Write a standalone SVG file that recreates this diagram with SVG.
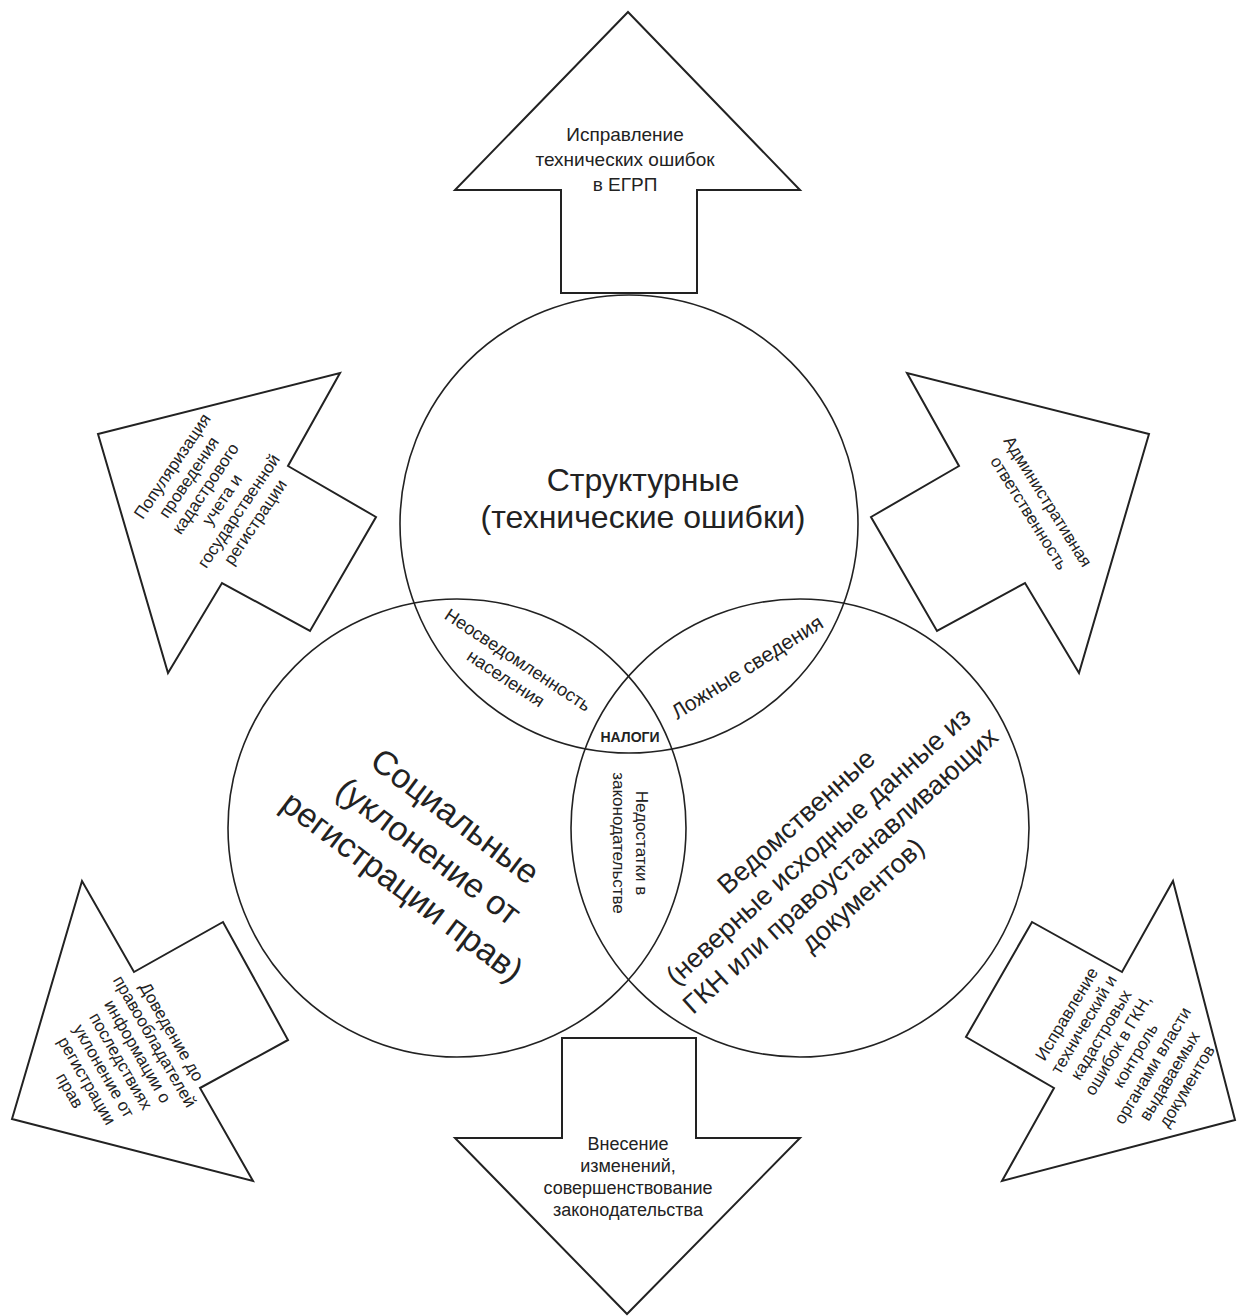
<svg xmlns="http://www.w3.org/2000/svg" width="1237" height="1316" viewBox="0 0 1237 1316">
<style>
.c{fill:none;stroke:#222;stroke-width:1.6}
.a{fill:#fff;stroke:#222;stroke-width:2;stroke-linejoin:miter}
text{font-family:"Liberation Sans",Arial,"Noto Sans",sans-serif;fill:#222;text-anchor:middle}
.big{font-size:32px}
.lb{font-size:17px}
</style>
<rect width="1237" height="1316" fill="#fff"/>
<g id="circle-structural">
<circle class="c" cx="629" cy="524" r="229"/>
<text class="big" x="643" y="491">Структурные</text>
<text class="big" x="643" y="528">(технические ошибки)</text>
</g>
<g id="circle-social">
<circle class="c" cx="457" cy="828" r="229"/>
<text style="font-size:34px" transform="translate(429,851) rotate(37)"><tspan x="0" y="-32">Социальные</tspan><tspan x="0" y="12">(уклонение от</tspan><tspan x="0" y="56">регистрации прав)</tspan></text>
</g>
<g id="circle-departmental">
<circle class="c" cx="800" cy="828" r="229"/>
<text style="font-size:27px" transform="translate(829,858) rotate(-42)"><tspan x="0" y="-40">Ведомственные</tspan><tspan x="0" y="-7">(неверные исходные данные из</tspan><tspan x="0" y="26">ГКН или правоустанавливающих</tspan><tspan x="0" y="59">документов)</tspan></text>
</g>
<g id="lens-unawareness">
<text style="font-size:18px" transform="translate(512,669) rotate(33.5)"><tspan x="0" y="-4.7">Неосведомленность</tspan><tspan x="0" y="17.3">населения</tspan></text>
</g>
<g id="lens-false-info">
<text style="font-size:21px" transform="translate(747,667) rotate(-32.4)"><tspan x="0" y="7.4">Ложные сведения</tspan></text>
</g>
<g id="lens-taxes">
<text style="font-size:14px;font-weight:bold" x="630" y="742">НАЛОГИ</text>
</g>
<g id="lens-legislation">
<text style="font-size:17px" transform="translate(624.5,843) rotate(90)"><tspan x="0" y="-11.5">Недостатки в</tspan><tspan x="0" y="11.5">законодательстве</tspan></text>
</g>
<g id="arrow-top">
<polygon class="a" points="628,12 800,190 697,190 697,293 561,293 561,190 455,190"/>
<text style="font-size:19px"><tspan x="625" y="141">Исправление</tspan><tspan x="625" y="166">технических ошибок</tspan><tspan x="625" y="191">в ЕГРП</tspan></text>
</g>
<g id="arrow-upper-left">
<polygon class="a" points="98,434 340,373 288,466 376,517 310,631 222,583 168,673"/>
<text class="lb" transform="translate(213.5,494) rotate(-56)"><tspan x="0" y="-44">Популяризация</tspan><tspan x="0" y="-24">проведения</tspan><tspan x="0" y="-4">кадастрового</tspan><tspan x="0" y="16">учета и</tspan><tspan x="0" y="36">государственной</tspan><tspan x="0" y="56">регистрации</tspan></text>
</g>
<g id="arrow-upper-right">
<polygon class="a" points="1149,434 907,373 959,466 871,517 937,631 1025,583 1079,673"/>
<text class="lb" transform="translate(1039,507) rotate(58)"><tspan x="0" y="-4.7">Административная</tspan><tspan x="0" y="17.3">ответственность</tspan></text>
</g>
<g id="arrow-lower-left">
<polygon class="a" points="12,1119 82,881 134,972 223,922 288,1040 200,1088 253,1181"/>
<text class="lb" transform="translate(121,1061) rotate(60)"><tspan x="0" y="-52.8">Доведение до</tspan><tspan x="0" y="-33.2">правообладателей</tspan><tspan x="0" y="-13.6">информации о</tspan><tspan x="0" y="6">последствиях</tspan><tspan x="0" y="25.6">уклонение от</tspan><tspan x="0" y="45.2">регистрации</tspan><tspan x="0" y="64.8">прав</tspan></text>
</g>
<g id="arrow-lower-right">
<polygon class="a" points="1235,1120 1173,881 1122,972 1032,922 966,1037 1054,1088 1002,1181"/>
<text class="lb" transform="translate(1126.5,1050) rotate(-59)"><tspan x="0" y="-64">Исправление</tspan><tspan x="0" y="-44">технический и</tspan><tspan x="0" y="-24">кадастровых</tspan><tspan x="0" y="-4">ошибок в ГКН,</tspan><tspan x="0" y="16">контроль</tspan><tspan x="0" y="36">органами власти</tspan><tspan x="0" y="56">выдаваемых</tspan><tspan x="0" y="76">документов</tspan></text>
</g>
<g id="arrow-bottom">
<polygon class="a" points="562,1038 696,1038 696,1138 800,1138 627,1314 455,1138 562,1138"/>
<text style="font-size:18px"><tspan x="628" y="1150">Внесение</tspan><tspan x="628" y="1172">изменений,</tspan><tspan x="628" y="1194">совершенствование</tspan><tspan x="628" y="1216">законодательства</tspan></text>
</g>
<g id="connectors"/>
</svg>
